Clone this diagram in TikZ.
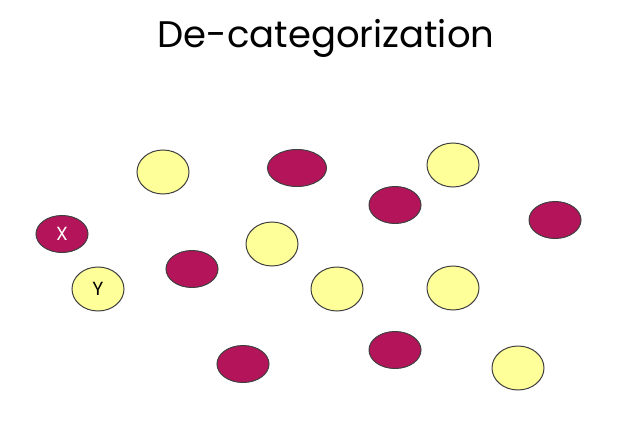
\documentclass[tikz,border=0pt]{standalone}
\usepackage{fontspec}
\setmainfont{Poppins}
\usetikzlibrary{shapes.geometric}
\definecolor{berry}{RGB}{180,20,90}
\definecolor{lemon}{RGB}{255,255,153}
\tikzset{
  VertexStyle/.style = {ellipse, draw = black!75, line width = 1pt,
                        inner sep = 0pt, minimum width = 52pt, minimum height = 44pt,
                        font = \fontsize{19}{19}\selectfont},
  RedVertex/.style = {VertexStyle, fill = berry, text = white, minimum height = 37pt},
  YellowVertex/.style = {VertexStyle, fill = lemon}
}
\begin{document}
\begin{tikzpicture}[x=1pt, y=-1pt]
        \useasboundingbox (0,0) rectangle (623,422);
        \node[font=\fontsize{37}{37}\selectfont] (Title) at (326,38) {De-categorization};
        % yellow ones
        \node[YellowVertex] (Y)  at (98,289)  {Y};
        \node[YellowVertex] (Ya) at (163,172) {};
        \node[YellowVertex] (Yb) at (272,244) {};
        \node[YellowVertex] (Yc) at (337,289) {};
        \node[YellowVertex] (Yd) at (453,165) {};
        \node[YellowVertex] (Ye) at (453,288) {};
        \node[YellowVertex] (Yf) at (518,368) {};
        % red ones
        \node[RedVertex] (X)  at (62,234)  {X};
        \node[RedVertex, minimum width=59pt] (Ra) at (297,168) {};
        \node[RedVertex] (Rb) at (395,205) {};
        \node[RedVertex] (Rc) at (555,220) {};
        \node[RedVertex] (Rd) at (192,269) {};
        \node[RedVertex] (Re) at (243,364) {};
        \node[RedVertex] (Rf) at (395,350) {};
    \end{tikzpicture}
\end{document}
